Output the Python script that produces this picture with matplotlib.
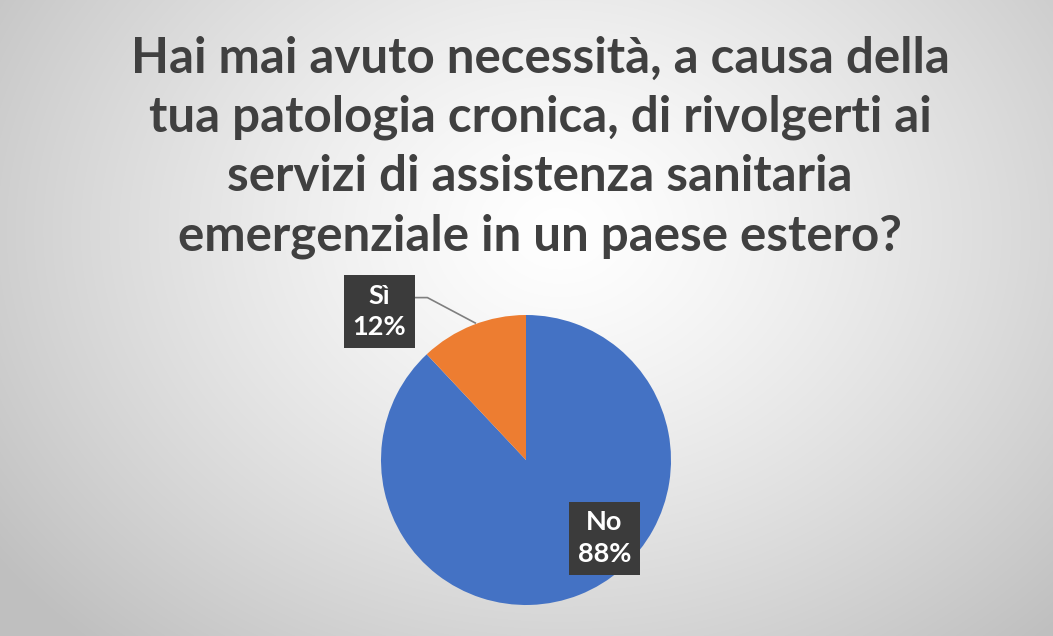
import numpy as np
import matplotlib
matplotlib.use("Agg")
import matplotlib.pyplot as plt

title = ("Hai mai avuto necessità, a causa della\n"
         "tua patologia cronica, di rivolgerti ai\n"
         "servizi di assistenza sanitaria\n"
         "emergenziale in un paese estero?")
categories = ["No", "Sì"]
values = [88, 12]
colors = ["#4472C4", "#ED7D31"]

W, H = 1053, 636
fig = plt.figure(figsize=(W / 100, H / 100), dpi=100)

# radial gradient background
bg = fig.add_axes([0, 0, 1, 1])
yy, xx = np.mgrid[0:H, 0:W]
cx, cy = 560, 230
d = np.sqrt(((xx - cx) / 700.0) ** 2 + ((yy - cy) / 560.0) ** 2)
d = np.clip(d, 0, 1)
g = 1.0 - 0.25 * d ** 1.3
bg.imshow(np.dstack([g, g, g]), extent=[0, W, 0, H], origin="upper", aspect="auto")
bg.set_xlim(0, W)
bg.set_ylim(0, H)
bg.axis("off")

fig.text(540 / W, 1 - 147 / H, title, ha="center", va="center",
         fontsize=35.5, fontweight="bold", family="Lato", color="#404040",
         linespacing=1.38)

# pie axes
pcx, pcy, r = 526, 460, 145
ax = fig.add_axes([(pcx - r) / W, (H - pcy - r) / H, 2 * r / W, 2 * r / H])
wedges, _ = ax.pie(values, colors=colors, startangle=90, counterclock=False,
                   radius=1.0, wedgeprops=dict(linewidth=0))
ax.set_xlim(-1, 1)
ax.set_ylim(-1, 1)
ax.set_aspect("equal")
ax.axis("off")

box = dict(boxstyle="square,pad=0.32", fc="#3b3b3b", ec="none")
label_pos = {"No": (0.54, -0.54), "Sì": (-1.01, 1.025)}
for lab, v in zip(categories, values):
    x, y = label_pos[lab]
    ax.text(x, y, f"{lab}\n{v}%", ha="center", va="center", fontsize=19.5,
            fontweight="bold", family="Lato", color="white", bbox=box,
            linespacing=1.38, clip_on=False, zorder=5)

# leader line for Sì
ax.plot([-0.77, -0.68, -0.35], [1.12, 1.12, 0.945], color="#7f7f7f", lw=1.2,
        clip_on=False, zorder=4)

fig.savefig("out.png", dpi=100)
